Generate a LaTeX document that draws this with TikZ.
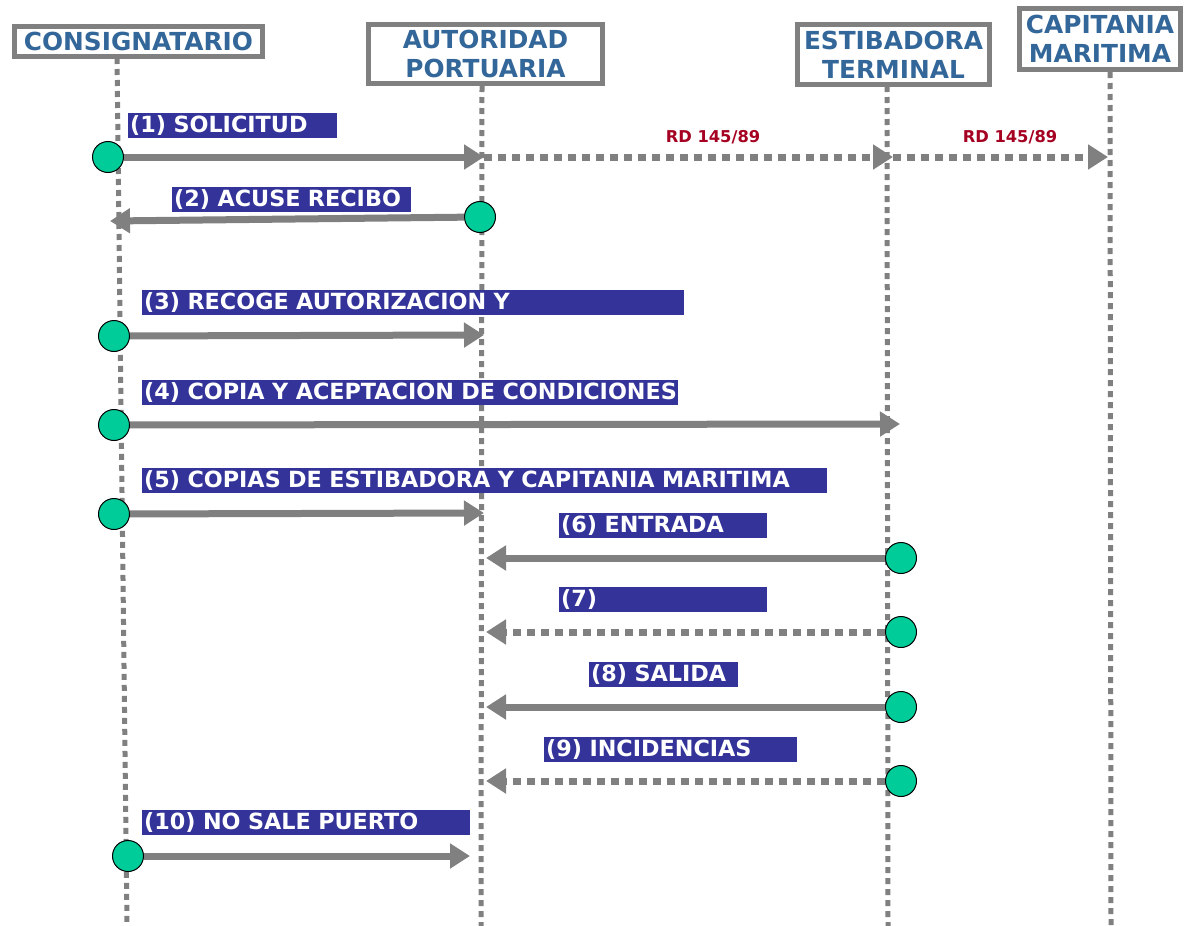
\documentclass[tikz,border=0pt]{standalone}
\usepackage{fontspec}
\setmainfont{DejaVu Sans}
\usetikzlibrary{arrows.meta}
\definecolor{hblue}{HTML}{336699}
\definecolor{lblue}{HTML}{333399}
\definecolor{lgray}{HTML}{808080}
\definecolor{dotgreen}{HTML}{00CC99}
\definecolor{rdred}{HTML}{A50021}
\begin{document}
\begin{tikzpicture}[x=1pt,y=-1pt,
 hdr/.style={draw=lgray, line width=5pt, fill=white, text=hblue, font=\bfseries\fontsize{24.8}{29}\selectfont, align=center, inner sep=0pt},
 lifeline/.style={draw=lgray, line width=5pt, dash pattern=on 6pt off 5pt},
 lbl/.style={fill=lblue, text=white, font=\bfseries\fontsize{22.3}{26}\selectfont, anchor=north west, minimum height=25pt, inner xsep=2pt, inner ysep=0pt, align=left},
 msg/.style={draw=lgray, line width=7pt, -{Triangle[length=20pt,width=24pt]}},
 dmsg/.style={msg, dash pattern=on 8pt off 6pt},
 dot/.style={circle, fill=dotgreen, draw=black, line width=1pt, minimum size=31pt, inner sep=0pt},
 rd/.style={text=rdred, font=\bfseries\fontsize{16.3}{19}\selectfont}]
\useasboundingbox (0,0) rectangle (1189,926);
% lifelines
\coordinate (l1t) at (117,58); \coordinate (l1b) at (127,926);
\coordinate (l2t) at (482,86); \coordinate (l2b) at (481,926);
\coordinate (l3t) at (887,86); \coordinate (l3b) at (888,926);
\coordinate (l4t) at (1110,72); \coordinate (l4b) at (1111,926);
\draw[lifeline] (l1t) -- (l1b);
\draw[lifeline] (l2t) -- (l2b);
\draw[lifeline] (l3t) -- (l3b);
\draw[lifeline] (l4t) -- (l4b);
% headers
\node[hdr, minimum width=248pt, minimum height=30pt] (h1) at (138.5,41) {CONSIGNATARIO};
\node[hdr, minimum width=234pt, minimum height=59pt] (h2) at (485.5,54) {AUTORIDAD\\PORTUARIA};
\node[hdr, minimum width=192pt, minimum height=60pt] (h3) at (893.5,54.5) {ESTIBADORA\\TERMINAL};
\node[hdr, minimum width=161pt, minimum height=61pt] (h4) at (1100,39) {CAPITANIA\\MARITIMA};
% labels
\node[lbl, text width=205pt] (m1) at (128,113) {\mbox{(1) SOLICITUD}};
\node[lbl, text width=235pt] (m2) at (172,187) {\mbox{(2) ACUSE RECIBO}};
\node[lbl, text width=538pt] (m3) at (142,290) {\mbox{(3) RECOGE AUTORIZACION Y}};
\node[lbl, text width=532pt] (m4) at (142,380) {\mbox{(4) COPIA Y ACEPTACION DE CONDICIONES}};
\node[lbl, text width=681pt] (m5) at (142,468) {\mbox{(5) COPIAS DE ESTIBADORA Y CAPITANIA MARITIMA}};
\node[lbl, text width=204pt] (m6) at (559,513) {\mbox{(6) ENTRADA}};
\node[lbl, text width=204pt] (m7) at (559,587) {\mbox{(7)}};
\node[lbl, text width=145pt] (m8) at (589,662) {\mbox{(8) SALIDA}};
\node[lbl, text width=249pt] (m9) at (544,737) {\mbox{(9) INCIDENCIAS}};
\node[lbl, text width=324pt] (m10) at (142,810) {\mbox{(10) NO SALE PUERTO}};
\node[rd] (rd1) at (713,137) {RD 145/89};
\node[rd] (rd2) at (1010,137) {RD 145/89};
% sources
\node[dot] (s1) at (108,157) {};
\node[dot] (s2) at (480,217) {};
\node[dot] (s3) at (114,336) {};
\node[dot] (s4) at (114,425) {};
\node[dot] (s5) at (114,514) {};
\node[dot] (s6) at (901,558) {};
\node[dot] (s7) at (901,632) {};
\node[dot] (s8) at (901,707) {};
\node[dot] (s9) at (901,781) {};
\node[dot] (s10) at (128,856) {};
% targets
\coordinate (t1) at (484,157);
\coordinate (t1b) at (893,157);
\coordinate (t1c) at (1108,157);
\coordinate (t2) at (110,221);
\coordinate (t3) at (484,335);
\coordinate (t4) at (900,424);
\coordinate (t5) at (484,513);
\coordinate (t6) at (486,558);
\coordinate (t7) at (486,632);
\coordinate (t8) at (486,707);
\coordinate (t9) at (486,781);
\coordinate (t10) at (470,856);
% messages
\draw[dmsg] (t1) -- (t1b);
\draw[dmsg] (t1b) -- (t1c);
\draw[msg] (s1) -- (t1);
\draw[msg] (s2) -- (t2);
\draw[msg] (s3) -- (t3);
\draw[msg] (s4) -- (t4);
\draw[msg] (s5) -- (t5);
\draw[msg] (s6) -- (t6);
\draw[dmsg] (s7) -- (t7);
\draw[msg] (s8) -- (t8);
\draw[dmsg] (s9) -- (t9);
\draw[msg] (s10) -- (t10);
\end{tikzpicture}
\end{document}
